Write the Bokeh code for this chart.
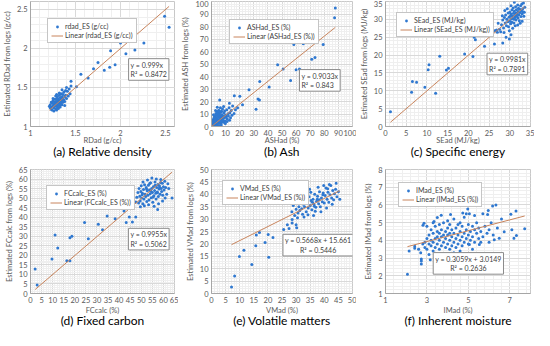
from bokeh.plotting import figure
from bokeh.layouts import gridplot
from bokeh.models import (Label, Legend, LegendItem, SingleIntervalTicker, FixedTicker, Range1d,
                          LinearAxis)
from bokeh.embed import file_html
from bokeh.resources import INLINE

# ---------------- data ----------------
# (a) Relative density
rd_x = [1.22,1.23,1.24,1.24,1.25,1.25,1.26,1.26,1.27,1.27,1.27,1.28,1.28,1.28,1.29,1.29,1.29,1.30,1.30,1.30,
        1.30,1.31,1.31,1.31,1.32,1.32,1.32,1.33,1.33,1.33,1.34,1.34,1.34,1.35,1.35,1.35,1.36,1.36,1.37,1.37,
        1.38,1.38,1.39,1.40,1.41,1.42,1.43,1.44,1.21,1.23,1.26,1.29,1.31,1.33,1.36,1.39,1.25,1.28,1.32,1.35,
        1.24,1.27,1.30,1.33,1.36,1.22,1.40,1.45,1.29,1.38,
        2.49,2.54,2.26,2.16,2.06,2.00,1.89,1.94,1.88,1.82,1.75,1.70,1.64,1.56,1.45,1.51]
rd_y = [1.28,1.22,1.30,1.25,1.27,1.33,1.24,1.29,1.31,1.26,1.35,1.28,1.22,1.32,1.30,1.26,1.36,1.29,1.33,1.24,
        1.38,1.31,1.27,1.35,1.30,1.34,1.40,1.32,1.28,1.37,1.35,1.30,1.42,1.33,1.38,1.28,1.36,1.41,1.34,1.44,
        1.38,1.32,1.40,1.36,1.45,1.39,1.48,1.42,1.26,1.31,1.20,1.21,1.23,1.25,1.31,1.46,1.36,1.39,1.43,1.47,
        1.21,1.29,1.32,1.34,1.33,1.24,1.50,1.52,1.41,1.27,
        2.41,2.27,2.07,1.98,1.93,2.07,1.97,1.79,1.76,1.72,1.82,1.74,1.62,1.67,1.58,1.51]

# (b) Ash
ash_x = [0.5,1.0,1.2,1.5,1.8,2.0,2.2,2.5,2.7,3.0,3.1,3.3,3.5,3.7,3.9,4.0,4.2,4.4,4.6,4.8,
         5.0,5.1,5.3,5.5,5.7,5.9,6.0,6.2,6.4,6.6,6.8,7.0,7.2,7.4,7.6,7.8,8.0,8.3,8.5,8.8,
         9.0,9.3,9.6,10.0,10.4,10.8,11.2,11.6,12.0,12.5,13.0,13.5,14.0,15.0,16.0,2.3,3.6,0.8,1.4,2.9,
         4.1,5.4,6.9,1.9,3.2,4.5,5.8,7.1,8.6,9.8,11.0,12.8,14.5,17.0,6.3,0.3,2.6,3.8,4.9,6.1,7.5,9.1,
         87.8,87.3,79.2,65.1,58.4,73.4,71.1,60.0,62.4,46.9,50.8,56.1,34.2,40.9,26.6,33.0,34.0,31.6,5.8,16.2,
         20.1,22.0,12.7,18.5]
ash_y = [1.2,3.5,0.5,6.0,2.1,4.5,8.0,1.0,3.0,5.5,10.5,2.2,7.0,4.0,12.0,1.5,6.2,9.0,3.3,5.0,
         7.8,13.0,2.5,4.8,10.0,6.5,3.8,8.5,5.5,11.5,2.8,7.0,4.2,9.5,6.0,14.0,5.0,8.0,3.5,10.8,
         6.8,12.5,4.5,9.0,7.5,13.5,6.0,10.2,8.5,15.0,11.0,7.0,12.8,16.5,10.5,0.3,0.8,5.0,9.5,12.8,
         15.5,0.5,1.2,7.2,8.8,11.0,12.0,12.2,16.0,2.5,4.0,5.0,9.0,13.5,15.0,2.8,5.8,2.9,8.9,4.6,7.9,8.3,
         94.8,87.0,65.7,66.2,65.7,55.3,53.8,45.5,46.0,49.4,46.0,36.9,36.1,31.7,29.4,22.0,21.3,13.8,21.3,24.7,
         24.2,17.4,18.7,15.0]

# (c) Specific energy
se_x = [28.0,28.3,28.5,28.7,28.9,29.0,29.2,29.3,29.5,29.6,29.7,29.8,30.0,30.0,30.1,30.2,30.3,30.4,30.5,30.5,
        30.6,30.7,30.8,30.9,31.0,31.0,31.1,31.2,31.3,31.4,31.5,31.5,31.6,31.7,31.8,31.9,32.0,32.0,32.1,32.2,
        32.3,32.4,32.5,32.6,32.7,32.8,32.9,33.0,33.1,33.2,33.3,33.4,33.6,27.5,27.8,28.2,28.8,29.4,29.9,30.7,
        31.3,32.5,33.0,29.1,30.3,31.9,28.6,27.2,26.8,33.5,31.1,24.8,25.3,26.0,26.5,27.0,25.8,
        1.2,6.3,6.5,7.5,9.5,10.3,10.5,12.1,13.1,14.7,15.2,19.1,21.1,21.7,21.4,21.7,23.9,25.5,26.3,28.3,
        29.9,30.3]
se_y = [28.5,29.8,27.6,30.5,29.0,31.2,28.2,30.0,29.3,31.8,27.9,30.6,29.5,32.0,30.9,28.8,31.5,30.1,29.2,32.6,
        31.0,30.3,33.2,31.7,30.0,29.0,32.3,31.1,30.5,33.5,31.8,29.8,32.7,30.9,31.5,34.0,32.2,30.4,33.1,31.3,
        29.6,32.8,31.9,33.8,30.8,32.4,34.3,31.6,33.0,32.1,34.6,30.9,33.4,27.2,26.5,31.0,32.5,33.0,26.8,27.5,
        28.2,28.9,29.5,25.0,33.8,28.4,26.3,28.9,27.0,32.0,34.8,27.2,27.6,27.0,26.8,26.4,25.5,
        4.1,9.6,12.6,12.4,11.0,15.9,17.3,9.3,19.7,15.8,16.3,20.3,19.6,28.4,25.0,24.3,22.5,28.0,23.1,23.4,
        24.5,25.7]

# (d) Fixed carbon
fc_x = [48.0,48.5,48.8,49.0,49.3,49.5,49.8,50.0,50.2,50.5,50.7,51.0,51.2,51.5,51.7,52.0,52.2,52.5,52.7,53.0,
        53.2,53.5,53.7,54.0,54.2,54.5,54.7,55.0,55.2,55.5,55.7,56.0,56.2,56.5,56.7,57.0,57.2,57.5,57.7,58.0,
        58.2,58.5,58.7,59.0,59.2,59.5,59.7,60.0,60.3,60.6,61.0,50.8,52.8,54.8,56.8,58.8,53.3,55.8,57.8,59.6,
        51.4,49.6,61.5,62.0,60.8,47.5,52.4,54.4,56.3,58.3,50.4,53.8,55.4,57.3,
        2.1,3.0,9.7,11.1,12.3,16.4,17.8,17.8,18.7,24.4,26.1,30.6,32.5,33.2,34.6,34.9,38.2,39.3,42.2,43.2,
        44.6,42.5,46.0,46.5,47.5,63.9,57.4,62.4]
fc_y = [50.5,53.0,47.5,55.0,51.0,48.5,53.5,56.5,50.0,52.5,47.0,54.5,49.5,57.0,52.0,50.8,55.5,48.2,53.8,51.5,
        56.8,49.0,54.2,52.3,58.0,50.2,55.0,53.0,47.8,56.0,51.2,54.0,58.5,52.5,49.5,55.5,53.2,57.2,50.8,54.8,
        56.5,52.0,58.2,55.0,53.5,57.8,51.5,56.0,54.2,58.8,55.5,58.5,59.5,60.5,60.0,59.8,46.5,45.8,47.0,48.5,
        46.0,45.5,52.0,57.5,50.0,48.0,54.8,53.6,56.7,55.6,51.8,57.6,50.6,52.8,
        12.8,4.4,18.1,30.7,23.9,17.2,17.2,29.2,30.0,37.2,28.7,36.3,33.4,46.1,40.6,47.4,39.2,47.4,43.2,37.2,
        40.1,53.8,37.5,45.7,40.1,50.0,44.0,55.1]

# (e) Volatile matters
vm_x = [28.5,29.0,29.5,30.0,30.3,30.7,31.0,31.3,31.6,32.0,32.3,32.6,33.0,33.3,33.6,34.0,34.3,34.6,35.0,35.3,
        35.6,36.0,36.3,36.6,37.0,37.3,37.6,38.0,38.3,38.6,39.0,39.3,39.6,40.0,40.3,40.6,41.0,41.3,41.6,42.0,
        42.3,42.6,43.0,43.3,43.6,44.0,44.5,45.0,45.5,33.8,34.8,36.2,38.8,40.8,31.8,29.8,30.5,35.2,37.8,39.8,
        41.8,44.2,32.8,36.8,42.8,28.8,34.2,37.5,39.5,35.8,33.5,41.2,38.2,36.5,
        7.1,8.2,9.9,11.5,14.3,15.7,15.9,17.0,19.0,20.1,20.3,21.8,25.6,27.5,26.9,28.6,28.6,30.0,30.2]
vm_y = [33.0,35.5,31.5,34.0,36.5,32.5,35.0,33.5,37.5,34.2,32.0,36.0,35.0,38.5,33.0,36.5,34.5,39.0,35.5,37.5,
        33.8,38.0,36.0,40.0,34.8,37.2,39.2,36.2,41.0,35.0,38.5,37.0,40.5,36.5,39.5,42.5,38.0,40.8,36.8,39.8,
        43.5,38.5,41.5,37.8,40.2,42.0,39.0,41.0,38.0,41.5,42.0,31.5,33.0,34.5,39.0,37.5,30.5,40.8,42.8,43.5,
        44.0,44.5,30.8,33.2,36.0,38.2,31.8,38.0,39.8,36.8,36.8,42.2,37.8,35.2,
        2.6,7.1,14.9,17.4,11.7,19.3,23.6,24.6,20.6,23.8,14.6,22.6,25.8,26.2,27.7,28.4,29.8,27.7,26.5]

# (f) Inherent moisture
im_x = [2.9,2.9,3.0,3.0,3.1,3.1,3.2,3.2,3.2,3.3,3.3,3.3,3.4,3.4,3.4,3.5,3.5,3.5,3.6,3.6,
        3.6,3.6,3.7,3.7,3.7,3.8,3.8,3.8,3.9,3.9,3.9,4.0,4.0,4.0,4.0,4.1,4.1,4.1,4.1,4.2,
        4.2,4.2,4.3,4.3,4.3,4.4,4.4,4.4,4.5,4.5,4.5,4.6,4.6,4.6,4.7,4.7,4.7,4.8,4.8,4.8,
        4.9,4.9,5.0,5.0,5.0,5.1,5.1,5.2,5.2,5.3,5.3,5.4,5.4,5.5,5.5,5.6,5.7,5.8,5.9,6.0,
        6.1,6.2,6.4,6.6,2.7,2.8,3.0,3.1,2.6,4.3,3.8,4.6,5.2,5.6,3.3,4.9,5.3,5.7,
        2.06,2.73,2.73,2.73,3.16,3.37,7.05,7.3,7.2,7.32,7.72,7.1,6.33,6.17,5.96,5.93,4.97,5.05,4.73,4.14,
        3.69,3.5,3.34,2.86,2.81,2.41,2.41,2.14,6.73,6.49,6.25,6.0,5.53,5.05]
im_y = [3.6,3.9,4.1,3.5,3.8,4.3,3.7,4.0,4.6,3.4,3.9,4.4,3.6,4.1,4.8,3.8,4.2,4.5,3.5,4.0,
        4.4,4.9,3.7,4.2,4.6,3.9,4.3,5.0,3.6,4.1,4.5,3.8,4.3,4.7,5.1,3.5,4.0,4.4,4.9,3.7,
        4.2,4.6,3.9,4.4,5.2,3.6,4.1,4.7,3.8,4.3,4.9,4.0,4.5,5.0,3.7,4.2,4.8,3.9,4.4,5.3,
        4.1,4.6,3.8,4.3,4.9,4.0,4.5,4.2,4.8,3.9,4.6,4.4,5.0,4.1,4.7,4.5,4.2,4.8,4.4,4.6,
        5.0,4.3,4.7,5.2,3.3,3.8,4.8,3.2,3.5,3.3,3.2,3.4,3.5,3.9,5.0,5.5,5.4,5.5,
        2.08,2.66,2.84,2.95,2.9,3.0,5.48,5.66,4.12,4.27,4.66,4.6,6.0,5.94,5.69,5.46,5.77,5.5,5.54,5.46,
        5.42,5.29,5.06,4.97,4.85,3.67,3.55,3.4,4.48,4.12,4.03,3.89,3.76,3.76]

# trendline coefficients (slope, intercept) and R²
trend = {
    "a": (0.999, 0.0, "y = 0.999x\nR² = 0.8472"),
    "b": (0.9033, 0.0, "y = 0.9033x\nR² = 0.843"),
    "c": (0.9981, 0.0, "y = 0.9981x\nR² = 0.7891"),
    "d": (0.9955, 0.0, "y = 0.9955x\nR² = 0.5062"),
    "e": (0.5668, 15.661, "y = 0.5668x + 15.661\nR² = 0.5446"),
    "f": (0.3059, 3.0149, "y = 0.3059x + 3.0149\nR² = 0.2636"),
}

BLUE = "#2F78D0"
TREND = "#C8845C"
FONT = "Lato"


def panel(xs, ys, key, xr, yr, xtick, ytick, xlabel, ylabel, series, eq_x, eq_y, eq_align,
          caption, leg_margin, height, top, tick_standoff, label_standoff, cap_standoff):
    slope, icpt, eq = trend[key]
    p = figure(width=178, height=height, x_range=Range1d(*xr), y_range=Range1d(*yr),
               output_backend="svg", toolbar_location=None, title=None,
               min_border_left=28, min_border_right=4, min_border_top=top, min_border_bottom=0)

    p.xaxis.ticker = xtick
    p.xgrid.ticker = xtick
    p.yaxis.ticker = ytick
    p.ygrid.ticker = ytick
    for ax in (p.xaxis[0], p.yaxis[0]):
        ax.major_tick_line_color = None
        ax.minor_tick_line_color = None
        ax.major_tick_in = 0
        ax.major_tick_out = 0
        ax.minor_tick_in = 0
        ax.minor_tick_out = 0
        ax.axis_line_color = "#a6a6a6"
        ax.major_label_text_font = FONT
        ax.major_label_text_font_size = "7.5px"
        ax.major_label_text_color = "#595959"
        ax.axis_label_text_font = FONT
        ax.axis_label_text_font_size = "7.5px"
        ax.axis_label_text_font_style = "normal"
        ax.axis_label_text_color = "#595959"
        ax.major_label_standoff = 3
        ax.axis_label_standoff = 2
    p.xaxis.major_label_standoff = tick_standoff
    p.xaxis.axis_label_standoff = label_standoff
    p.xaxis.axis_label = xlabel
    p.yaxis.axis_label = ylabel
    for g in (p.xgrid[0], p.ygrid[0]):
        g.grid_line_color = "#d9d9d9"
        g.minor_grid_line_color = "#efefef"
    p.outline_line_color = "#c8c8c8"

    # caption as an empty axis below the x axis
    cap = LinearAxis(ticker=FixedTicker(ticks=[]), axis_line_color=None,
                     major_tick_line_color=None, minor_tick_line_color=None,
                     major_tick_in=0, major_tick_out=0, minor_tick_in=0, minor_tick_out=0,
                     major_label_text_font_size="0px", major_label_standoff=0,
                     axis_label=caption, axis_label_text_font=FONT,
                     axis_label_text_font_size="12px", axis_label_text_font_style="normal",
                     axis_label_text_color="black", axis_label_standoff=cap_standoff)
    p.add_layout(cap, "below")

    r1 = p.scatter(xs, ys, size=3, color=BLUE, line_color=None)
    lx = [min(xs), max(xs)]
    ly = [slope * v + icpt for v in lx]
    r2 = p.line(lx, ly, line_color=TREND, line_width=1)

    leg = Legend(items=[LegendItem(label=series, renderers=[r1]),
                        LegendItem(label="Linear (" + series + ")", renderers=[r2])],
                 location="top_left", margin=leg_margin, padding=3, spacing=1,
                 glyph_height=7, glyph_width=12, label_height=7, label_standoff=2,
                 label_text_font=FONT, label_text_font_size="7px", label_text_color="#404040",
                 border_line_color="#8c8c8c", background_fill_alpha=1.0)
    p.add_layout(leg)

    lab = Label(x=eq_x, y=eq_y, text=eq, text_align=eq_align, text_baseline="middle",
                text_font=FONT, text_font_size="7px", text_color="#404040",
                border_line_color="#8c8c8c", background_fill_color="white", padding=2)
    p.add_layout(lab)
    return p


def sit(iv):
    return SingleIntervalTicker(interval=iv, num_minor_ticks=5)


pa = panel(rd_x, rd_y, "a", (1, 2.6), (1, 2.6), sit(0.5), sit(0.5), "RDad (g/cc)",
           "Estimated RDad from logs (g/cc)", "rdad_ES (g/cc)", 2.09, 1.73, "left",
           "(a) Relative density", 17, 161, 1, 3, -3, -4)
pb = panel(ash_x, ash_y, "b", (0, 100), (0, 100), sit(10), sit(10), "ASHad (%)",
           "Estimated ASH from logs (%)", "ASHad_ES (%)", 62.4, 36.9, "left",
           "(b) Ash", 18, 161, 1, 3, -3, -4)
pc = panel(se_x, se_y, "c", (0, 35), (0, 35), sit(5), sit(5), "SEad (MJ/kg)",
           "Estimated SEad from logs (MJ/kg)", "SEad_ES (MJ/kg)", 24.5, 17.5, "left",
           "(c) Specific energy", 11, 161, 1, 3, -3, -4)
pd_ = panel(fc_x, fc_y, "d", (0, 65), (0, 65), sit(5), sit(5), "FCcalc (%)",
            "Estimated FCcalc from logs (%)", "FCcalc_ES (%)", 44.2, 28.5, "left",
            "(d) Fixed carbon", 16, 169, 8, 3, 0, -5)
pe = panel(vm_x, vm_y, "e", (0, 50), (0, 50), sit(5), sit(5), "VMad (%)",
           "Estimated VMad from logs (%)", "VMad_ES (%)", 37.8, 19.5, "center",
           "(e) Volatile matters", 11, 169, 8, 3, 0, -5)
pf = panel(im_x, im_y, "f", (1, 8), (1, 8),
           FixedTicker(ticks=[1, 3, 5, 7], minor_ticks=[1.4, 1.8, 2.2, 2.6, 3.4, 3.8, 4.2, 4.6, 5.4, 5.8, 6.2, 6.6, 7.4, 7.8]),
           sit(1), "IMad (%)",
           "Estimated IMad from logs (%)", "IMad_ES (%)", 5.0, 2.7, "center",
           "(f) Inherent moisture", 13, 169, 8, 3, 0, -5)

grid = gridplot([[pa, pb, pc], [pd_, pe, pf]], toolbar_location=None)

open("out.html", "w").write(file_html(grid, INLINE))
